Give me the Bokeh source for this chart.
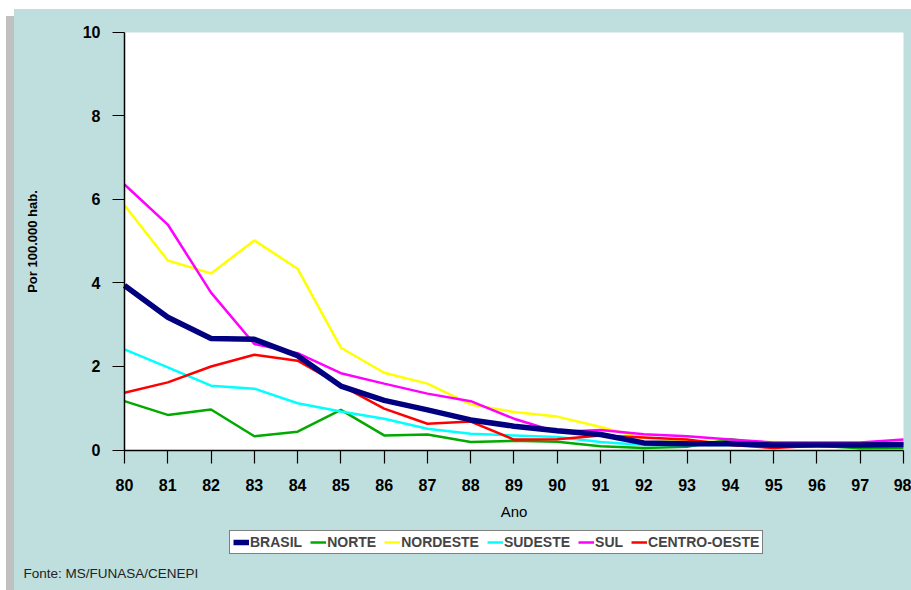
from bokeh.plotting import figure
from bokeh.models import Range1d, Legend, LegendItem, Label, FixedTicker, BoxAnnotation
from bokeh.embed import file_html
from bokeh.resources import INLINE

years = list(range(80, 99))
year_labels = [str(y) for y in years]
y_ticks = [0, 2, 4, 6, 8, 10]

brasil = [3.94, 3.18, 2.67, 2.65, 2.26, 1.53, 1.19, 0.96, 0.72, 0.57, 0.46, 0.37, 0.17, 0.15, 0.15, 0.12, 0.12, 0.12, 0.13]
norte = [1.17, 0.84, 0.97, 0.33, 0.44, 0.96, 0.35, 0.37, 0.19, 0.22, 0.20, 0.09, 0.05, 0.08, 0.26, 0.12, 0.10, 0.04, 0.05]
nordeste = [5.86, 4.54, 4.23, 5.02, 4.34, 2.45, 1.85, 1.59, 1.09, 0.91, 0.80, 0.55, 0.28, 0.22, 0.18, 0.19, 0.17, 0.18, 0.20]
sudeste = [2.41, 1.98, 1.54, 1.47, 1.12, 0.92, 0.75, 0.51, 0.39, 0.35, 0.31, 0.19, 0.12, 0.12, 0.12, 0.10, 0.10, 0.10, 0.10]
sul = [6.36, 5.40, 3.77, 2.54, 2.32, 1.84, 1.59, 1.35, 1.17, 0.75, 0.43, 0.48, 0.38, 0.33, 0.25, 0.18, 0.18, 0.18, 0.25]
centro_oeste = [1.37, 1.62, 2.00, 2.28, 2.14, 1.55, 0.99, 0.63, 0.68, 0.25, 0.26, 0.35, 0.30, 0.25, 0.12, 0.05, 0.10, 0.15, 0.15]

series_names = ["BRASIL", "NORTE", "NORDESTE", "SUDESTE", "SUL", "CENTRO-OESTE"]
series_values = [brasil, norte, nordeste, sudeste, sul, centro_oeste]
colors = ["#000080", "#00AA00", "#FFFF00", "#00FFFF", "#FF00FF", "#FF0000"]
widths = [5.5, 2.5, 2.5, 2.5, 2.5, 2.5]

X0, X1 = 80, 98
Y0, Y1 = 0, 10
FONT = "Liberation Sans"

# frame covers the whole figure; data area (80..98, 0..10) sits at the reference position
p = figure(width=911, height=590, output_backend="svg", toolbar_location=None,
           x_range=Range1d(77.135, 98.185), y_range=Range1d(-3.365, 10.766),
           min_border=0)
p.styles = {
    "background": ("linear-gradient(#C0C0C0, #C0C0C0) 6px 16px / 8px 100% no-repeat, "
                   "linear-gradient(#BFDFDE, #BFDFDE) 14px 9px / 100% 100% no-repeat")
}
p.border_fill_alpha = 0
p.background_fill_alpha = 0
p.outline_line_color = None
p.grid.visible = False

p.add_layout(BoxAnnotation(left=X0, right=X1, bottom=Y0, top=Y1, fill_color="white",
                           fill_alpha=1, line_color=None, level="underlay"))

renderers = {}
for i in [1, 2, 3, 4, 5, 0]:
    r = p.line(years, series_values[i], line_color=colors[i], line_width=widths[i])
    renderers[series_names[i]] = r

xa = p.xaxis[0]
ya = p.yaxis[0]
xa.fixed_location = Y0
ya.fixed_location = X0
xa.bounds = (X0, X1)
ya.bounds = (Y0, Y1)

for ax in (xa, ya):
    ax.axis_line_color = "black"
    ax.axis_line_width = 1.5
    ax.major_tick_line_color = "black"
    ax.major_tick_line_width = 1.2
    ax.minor_tick_line_color = None
    ax.major_tick_in = 0
    ax.major_label_text_font = FONT
    ax.major_label_text_font_style = "bold"
    ax.major_label_text_font_size = "16px"
    ax.major_label_text_color = "black"

xa.ticker = FixedTicker(ticks=years)
xa.major_label_overrides = {y: s for y, s in zip(years, year_labels)}
xa.major_tick_out = 13
xa.major_label_standoff = 16
xa.axis_label = "Ano"
xa.axis_label_text_font = FONT
xa.axis_label_text_font_style = "normal"
xa.axis_label_text_font_size = "15px"
xa.axis_label_text_color = "black"
xa.axis_label_standoff = 8

ya.ticker = FixedTicker(ticks=y_ticks)
ya.major_tick_out = 12
ya.major_label_standoff = 12
ya.axis_label = "Por 100.000 hab."
ya.axis_label_text_font = FONT
ya.axis_label_text_font_style = "bold"
ya.axis_label_text_font_size = "13px"
ya.axis_label_text_color = "black"
ya.axis_label_standoff = 40

legend = Legend(items=[LegendItem(label=n, renderers=[renderers[n]]) for n in series_names],
                orientation="horizontal", location=(229, 36),
                background_fill_color="white", background_fill_alpha=1,
                border_line_color="black", border_line_width=1.2,
                label_text_font=FONT, label_text_font_style="bold",
                label_text_font_size="14px", label_standoff=1, label_height=16,
                glyph_width=16, glyph_height=16, spacing=8, padding=3, margin=0)
p.add_layout(legend, "center")

fonte = Label(x=23, y=17, x_units="screen", y_units="screen",
              text="Fonte: MS/FUNASA/CENEPI", text_font=FONT,
              text_font_size="13.5px", text_color="#222222", text_baseline="middle")
p.add_layout(fonte)

open("out.html", "w").write(file_html(p, INLINE))
